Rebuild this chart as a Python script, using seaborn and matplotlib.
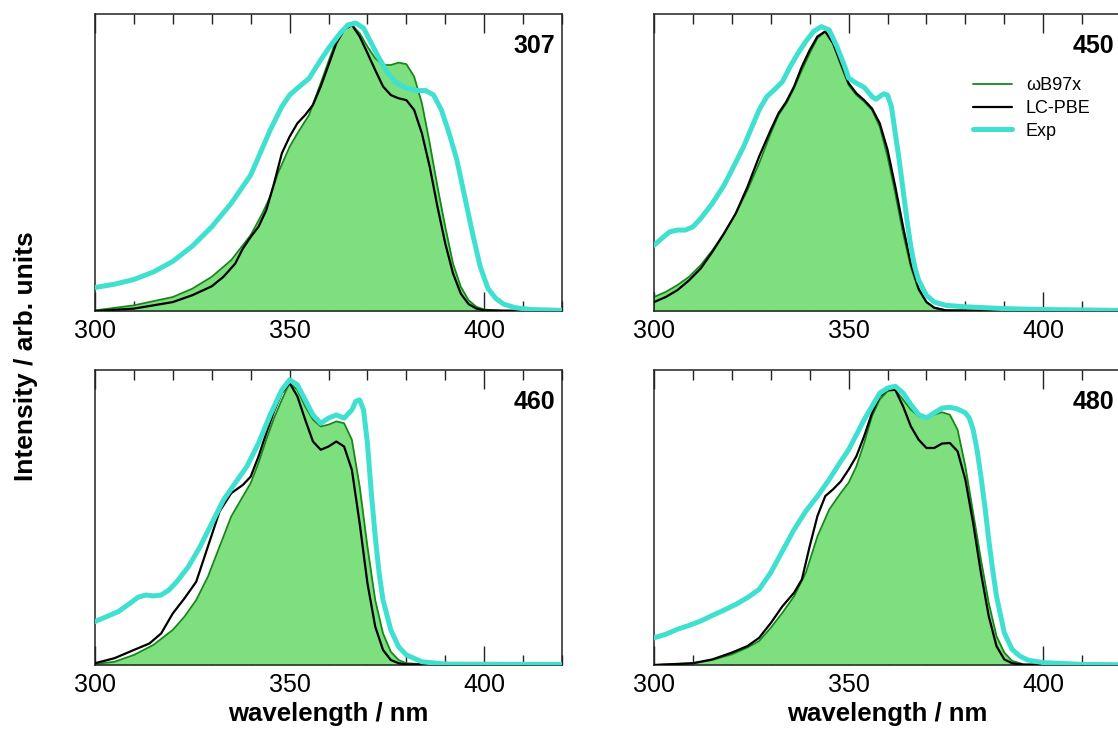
import numpy as np
import pandas as pd
import matplotlib
matplotlib.use("Agg")
import matplotlib.pyplot as plt
from matplotlib.ticker import MultipleLocator
import seaborn as sns

# ---------------- data (intensity as fraction of panel height) ----
# panel 307
wl_307_exp = [300, 305, 310, 315, 320, 325, 330, 335, 340, 345, 348, 350, 352, 355, 358, 360, 363, 365, 367,
              369, 371, 373, 375, 377, 380, 383, 385, 387, 389, 391, 393, 395, 397, 399, 401, 403, 405, 408, 412, 420]
in_307_exp = [0.080, 0.091, 0.107, 0.132, 0.168, 0.219, 0.284, 0.363, 0.458, 0.609, 0.688, 0.727, 0.750, 0.783,
              0.845, 0.884, 0.935, 0.963, 0.969, 0.952, 0.901, 0.851, 0.806, 0.772, 0.750, 0.742, 0.742, 0.727,
              0.677, 0.598, 0.508, 0.385, 0.262, 0.149, 0.076, 0.043, 0.024, 0.012, 0.006, 0.003]
wl_307_wb = [300, 310, 320, 325, 330, 335, 340, 343, 345, 347, 350, 352, 355, 358, 360, 362, 364, 366, 368, 370,
             372, 374, 376, 378, 380, 382, 384, 386, 388, 390, 392, 394, 396, 398, 400, 405, 420]
in_307_wb = [0.003, 0.020, 0.048, 0.076, 0.116, 0.172, 0.256, 0.329, 0.385, 0.464, 0.553, 0.598, 0.660, 0.767,
             0.840, 0.912, 0.952, 0.963, 0.935, 0.890, 0.851, 0.828, 0.828, 0.836, 0.831, 0.789, 0.699, 0.565,
             0.419, 0.284, 0.160, 0.082, 0.037, 0.015, 0.006, 0.001, 0.0]
wl_307_lc = [300, 310, 320, 325, 330, 333, 336, 338, 340, 342, 344, 346, 348, 350, 352, 354, 356, 358, 360, 362,
             364, 366, 368, 370, 372, 374, 376, 378, 380, 382, 384, 386, 388, 390, 392, 394, 396, 398, 400, 420]
in_307_lc = [0.001, 0.009, 0.031, 0.054, 0.084, 0.116, 0.160, 0.211, 0.250, 0.284, 0.340, 0.430, 0.531, 0.587,
             0.632, 0.660, 0.694, 0.756, 0.828, 0.901, 0.946, 0.963, 0.924, 0.868, 0.811, 0.756, 0.727, 0.716,
             0.710, 0.677, 0.598, 0.486, 0.351, 0.228, 0.127, 0.059, 0.024, 0.009, 0.003, 0.0]

# panel 450
wl_450_exp = [300, 302, 304, 306, 308, 310, 312, 315, 318, 320, 323, 325, 327, 329, 331, 333, 335, 337, 339, 341,
              343, 345, 347, 349, 350, 352, 354, 356, 357, 358, 359, 360, 361, 362, 363, 364, 365, 366, 367, 368,
              370, 372, 375, 380, 390, 400, 420]
in_450_exp = [0.222, 0.245, 0.267, 0.273, 0.273, 0.284, 0.312, 0.363, 0.424, 0.475, 0.553, 0.615, 0.677, 0.722,
              0.746, 0.772, 0.823, 0.868, 0.907, 0.941, 0.957, 0.946, 0.890, 0.823, 0.784, 0.767, 0.753, 0.722,
              0.713, 0.722, 0.731, 0.727, 0.688, 0.598, 0.508, 0.407, 0.306, 0.217, 0.149, 0.104, 0.054, 0.031,
              0.020, 0.015, 0.009, 0.006, 0.003]
wl_450_wb = [300, 303, 306, 309, 312, 315, 318, 321, 324, 327, 330, 332, 334, 336, 338, 340, 342, 344, 346, 348,
             350, 352, 354, 356, 358, 360, 362, 364, 366, 368, 370, 372, 375, 420]
in_450_wb = [0.048, 0.065, 0.088, 0.116, 0.155, 0.205, 0.262, 0.329, 0.407, 0.497, 0.598, 0.660, 0.699, 0.750,
             0.811, 0.867, 0.918, 0.941, 0.901, 0.828, 0.761, 0.727, 0.705, 0.677, 0.621, 0.520, 0.396, 0.262,
             0.149, 0.071, 0.031, 0.012, 0.003, 0.0]
wl_450_lc = [300, 303, 306, 309, 312, 315, 318, 321, 324, 327, 330, 332, 334, 336, 338, 340, 342, 344, 346, 348,
             350, 352, 354, 356, 358, 360, 362, 364, 366, 368, 370, 372, 375, 420]
in_450_lc = [0.031, 0.048, 0.071, 0.104, 0.144, 0.200, 0.262, 0.329, 0.418, 0.520, 0.610, 0.666, 0.705, 0.756,
             0.823, 0.878, 0.924, 0.941, 0.901, 0.834, 0.767, 0.733, 0.710, 0.682, 0.632, 0.543, 0.419, 0.284,
             0.160, 0.076, 0.031, 0.012, 0.003, 0.0]

# panel 460
wl_460_exp = [300, 303, 306, 309, 311, 313, 315, 317, 319, 321, 324, 327, 330, 333, 336, 339, 342, 345, 348, 350,
              352, 354, 356, 358, 360, 362, 364, 366, 367, 368, 369, 370, 371, 372, 373, 374, 376, 378, 380, 384,
              390, 420]
in_460_exp = [0.147, 0.164, 0.181, 0.209, 0.229, 0.237, 0.234, 0.237, 0.254, 0.282, 0.333, 0.401, 0.480, 0.559,
              0.616, 0.672, 0.751, 0.847, 0.932, 0.966, 0.949, 0.898, 0.847, 0.819, 0.836, 0.847, 0.836, 0.864,
              0.893, 0.898, 0.864, 0.751, 0.582, 0.435, 0.311, 0.220, 0.119, 0.062, 0.034, 0.011, 0.003, 0.002]
wl_460_wb = [300, 305, 310, 315, 320, 323, 326, 329, 332, 335, 338, 340, 342, 344, 346, 348, 350, 352, 354, 356,
             358, 360, 362, 364, 366, 368, 370, 372, 374, 376, 378, 380, 385, 420]
in_460_wb = [0.003, 0.011, 0.034, 0.068, 0.119, 0.164, 0.220, 0.299, 0.401, 0.503, 0.571, 0.616, 0.684, 0.763,
             0.836, 0.898, 0.955, 0.932, 0.876, 0.831, 0.808, 0.814, 0.825, 0.819, 0.763, 0.605, 0.401, 0.220,
             0.107, 0.045, 0.017, 0.006, 0.002, 0.0]
wl_460_lc = [300, 305, 310, 314, 317, 320, 323, 326, 329, 332, 335, 338, 340, 342, 344, 346, 348, 350, 352, 354,
             356, 358, 360, 362, 364, 366, 368, 370, 372, 374, 376, 378, 380, 420]
in_460_lc = [0.006, 0.023, 0.051, 0.073, 0.107, 0.175, 0.226, 0.282, 0.401, 0.520, 0.582, 0.610, 0.638, 0.706,
             0.785, 0.859, 0.921, 0.955, 0.910, 0.831, 0.757, 0.729, 0.740, 0.757, 0.740, 0.661, 0.480, 0.277,
             0.130, 0.051, 0.017, 0.006, 0.002, 0.0]

# panel 480
wl_480_exp = [300, 303, 306, 309, 312, 315, 318, 321, 324, 327, 330, 333, 336, 339, 342, 345, 348, 350, 352, 354,
              356, 358, 360, 362, 364, 366, 368, 370, 372, 374, 376, 378, 380, 381, 382, 383, 384, 385, 386, 387,
              388, 390, 392, 394, 396, 400, 410, 420]
in_480_exp = [0.092, 0.104, 0.121, 0.134, 0.149, 0.168, 0.186, 0.205, 0.228, 0.256, 0.313, 0.386, 0.459, 0.521,
              0.572, 0.628, 0.690, 0.729, 0.780, 0.831, 0.876, 0.921, 0.938, 0.944, 0.921, 0.882, 0.848, 0.837,
              0.854, 0.870, 0.873, 0.867, 0.854, 0.837, 0.797, 0.729, 0.639, 0.538, 0.425, 0.324, 0.233, 0.109,
              0.053, 0.030, 0.017, 0.008, 0.002, 0.001]
wl_480_wb = [300, 310, 315, 320, 324, 327, 330, 333, 336, 339, 342, 345, 348, 350, 352, 354, 356, 358, 360, 362,
             364, 366, 368, 370, 372, 374, 376, 378, 380, 382, 384, 386, 388, 390, 392, 395, 420]
in_480_wb = [0.000, 0.006, 0.017, 0.036, 0.059, 0.081, 0.126, 0.177, 0.233, 0.312, 0.436, 0.526, 0.583, 0.617,
             0.673, 0.752, 0.842, 0.899, 0.927, 0.932, 0.899, 0.865, 0.842, 0.837, 0.848, 0.856, 0.848, 0.797,
             0.673, 0.515, 0.357, 0.211, 0.098, 0.042, 0.014, 0.002, 0.0]
wl_480_lc = [300, 310, 315, 320, 324, 327, 330, 333, 336, 338, 340, 342, 344, 346, 348, 350, 352, 354, 356, 358,
             360, 362, 364, 366, 368, 370, 372, 374, 376, 378, 380, 382, 384, 386, 388, 390, 392, 395, 420]
in_480_lc = [0.000, 0.006, 0.019, 0.042, 0.064, 0.092, 0.142, 0.199, 0.245, 0.290, 0.402, 0.505, 0.572, 0.595,
             0.622, 0.662, 0.707, 0.775, 0.853, 0.910, 0.932, 0.932, 0.876, 0.808, 0.763, 0.735, 0.735, 0.750,
             0.752, 0.724, 0.628, 0.481, 0.312, 0.166, 0.064, 0.019, 0.006, 0.001, 0.0]

panel_labels = ["307", "450", "460", "480"]
series_names = ["\u03c9B97x", "LC-PBE", "Exp"]
x_ticks = [300, 350, 400]

panels = {
    "307": (wl_307_wb, in_307_wb, wl_307_lc, in_307_lc, wl_307_exp, in_307_exp),
    "450": (wl_450_wb, in_450_wb, wl_450_lc, in_450_lc, wl_450_exp, in_450_exp),
    "460": (wl_460_wb, in_460_wb, wl_460_lc, in_460_lc, wl_460_exp, in_460_exp),
    "480": (wl_480_wb, in_480_wb, wl_480_lc, in_480_lc, wl_480_exp, in_480_exp),
}

# ---------------- styling ----------------
sns.set_theme(style="ticks")
plt.rcParams["font.family"] = ["Liberation Sans", "DejaVu Sans"]
plt.rcParams["text.color"] = "black"
plt.rcParams["axes.labelcolor"] = "black"
plt.rcParams["xtick.color"] = "#222222"
plt.rcParams["xtick.labelcolor"] = "black"
plt.rcParams["lines.solid_joinstyle"] = "round"
plt.rcParams["lines.solid_capstyle"] = "round"

FILL = "#7ddf7d"
GREEN = "#18871a"
CYAN = "#40e0d0"
BLACK = "#000000"

fig = plt.figure(figsize=(11.18, 7.29), dpi=100)
W = 0.4177
H = 0.408
positions = {
    "307": [0.085, 0.573, W, H],
    "450": [0.585, 0.573, W, H],
    "460": [0.085, 0.0878, W, 0.405],
    "480": [0.585, 0.0878, W, 0.405],
}

for i, lab in enumerate(panel_labels):
    ax = fig.add_axes(positions[lab])
    wl_wb, in_wb, wl_lc, in_lc, wl_ex, in_ex = panels[lab]
    df_wb = pd.DataFrame({"wl": wl_wb, "I": in_wb})
    df_lc = pd.DataFrame({"wl": wl_lc, "I": in_lc})
    df_ex = pd.DataFrame({"wl": wl_ex, "I": in_ex})

    ax.fill_between(df_wb["wl"], 0, df_wb["I"], color=FILL, lw=0, zorder=1)
    sns.lineplot(data=df_wb, x="wl", y="I", ax=ax, color=GREEN, lw=1.3,
                 label=series_names[0], estimator=None, sort=False, zorder=2)
    sns.lineplot(data=df_lc, x="wl", y="I", ax=ax, color=BLACK, lw=1.6,
                 label=series_names[1], estimator=None, sort=False, zorder=3)
    sns.lineplot(data=df_ex, x="wl", y="I", ax=ax, color=CYAN, lw=3.6,
                 label=series_names[2], estimator=None, sort=False, zorder=4)

    ax.set_xlim(300, 420)
    ax.set_ylim(0, 1.0)
    ax.set_yticks([])
    ax.xaxis.set_minor_locator(MultipleLocator(10))
    ax.set_xticks(x_ticks)
    ax.tick_params(axis="x", which="major", direction="in", length=13.5, width=1.0,
                   top=True, bottom=True, labelsize=18, pad=5.5)
    ax.tick_params(axis="x", which="minor", direction="in", length=7, width=1.0,
                   top=True, bottom=True)
    for sp in ax.spines.values():
        sp.set_color("#222222")
        sp.set_linewidth(1.1)
        sp.set_visible(True)

    ax.set_ylabel("")
    if i >= 2:
        ax.set_xlabel("wavelength / nm", fontsize=18.5, fontweight="bold", labelpad=4)
    else:
        ax.set_xlabel("")

    ax.text(0.985, 0.892, lab, transform=ax.transAxes, ha="right", va="center",
            fontsize=18, fontweight="bold", zorder=6)

    if lab == "450":
        ax.legend(loc="center left", bbox_to_anchor=(0.683, 0.682), frameon=False,
                  fontsize=13, handlelength=2.15, handletextpad=0.78, labelspacing=0.32,
                  borderpad=0, borderaxespad=0)
    else:
        leg = ax.get_legend()
        if leg is not None:
            leg.remove()

fig.text(0.0235, 0.512, "Intensity / arb. units", rotation=90, ha="center", va="center",
         fontsize=19, fontweight="bold")

fig.savefig("out.png", dpi=100)
